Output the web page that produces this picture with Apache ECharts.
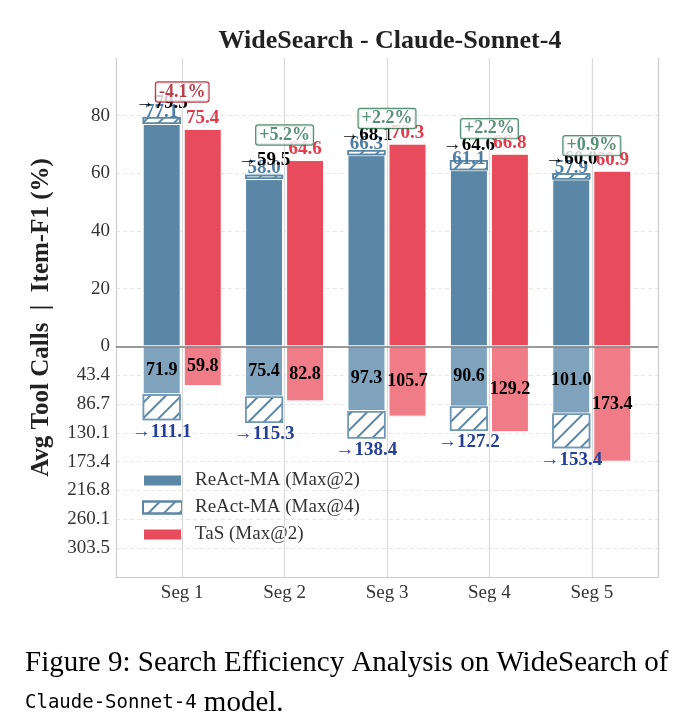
<!DOCTYPE html>
<html>
<head>
<meta charset="utf-8">
<script src="https://cdn.jsdelivr.net/npm/echarts@6/dist/echarts.min.js"></script>
<style>
  html, body { margin: 0; padding: 0; background: #fff; }
  #main { width: 686px; height: 727px; }
</style>
</head>
<body>
<div id="main"></div>
<script>
// 数据
var segs = ['Seg 1', 'Seg 2', 'Seg 3', 'Seg 4', 'Seg 5'];
var f1Max2 = [77.1, 58.0, 66.3, 61.1, 57.9];   // ReAct-MA (Max@2) Item-F1
var f1Max4 = [79.5, 59.5, 68.1, 64.6, 60.0];   // ReAct-MA (Max@4) Item-F1
var f1Tas = [75.4, 64.6, 70.3, 66.8, 60.9];    // TaS (Max@2) Item-F1
var gain = [-4.1, 5.2, 2.2, 2.2, 0.9];          // TaS vs Max@4
var callsMax2 = [71.9, 75.4, 97.3, 90.6, 101.0];
var callsMax4 = [111.1, 115.3, 138.4, 127.2, 153.4];
var callsTas = [59.8, 82.8, 105.7, 129.2, 173.4];

var serif = 'Liberation Serif';
var blue = '#5a87a6', blueLight = '#7fa3bd', red = '#e84b5b', redLight = '#ef7c86';
// 下半部分: 调用次数按比例缩放, 173.4 对应 -40
var callScale = 173.4 / 40;

function lower(v) { return -v / callScale; }

// 网格线颜色 (上半部分每20一条, 下半部分每10一条)
var lineColors = [];
for (var v = -80; v <= 100; v += 10) {
  if (v === -80 || v === 100) lineColors.push('transparent');
  else if (v < 0 || v % 20 === 0) lineColors.push('#e8e8e8');
  else lineColors.push('transparent');
}

var hatch = {
  symbol: 'rect',
  symbolSize: 1,
  color: blue,
  dashArrayX: [1, 0],
  dashArrayY: [1.4, 8.5],
  rotation: -Math.PI / 4
};

var BW = 38;

var chart = echarts.init(document.getElementById('main'));
var option = {
  animation: false,
  title: [{
    text: 'WideSearch - Claude-Sonnet-4',
    left: 385,
    textAlign: 'center',
    top: 23,
    textStyle: { fontFamily: serif, fontWeight: 'bold', fontSize: 26, color: '#222' }
  }, {
    text: 'Figure 9: Search Efficiency Analysis on WideSearch of\n{m|Claude-Sonnet-4} model.',
    left: 20,
    top: 638,
    textStyle: {
      fontFamily: serif, fontSize: 29, fontWeight: 'normal', color: '#000', lineHeight: 40,
      rich: { m: { fontFamily: 'DejaVu Sans Mono', fontSize: 19, color: '#000' } }
    }
  }],
  legend: {
    orient: 'vertical',
    left: 137,
    top: 466,
    itemWidth: 39,
    itemHeight: 12,
    itemGap: 8,
    icon: 'rect',
    data: ['ReAct-MA (Max@2)', 'ReAct-MA (Max@4)', 'TaS (Max@2)'],
    textStyle: { fontFamily: serif, fontSize: 19, color: '#333', padding: [0, 0, 0, 8] }
  },
  grid: [
    { left: 116, right: 28, top: 58, bottom: 150 },
    { left: 131, right: 43, top: 58, bottom: 150 }
  ],
  xAxis: [{
    type: 'value', gridIndex: 0, min: 0, max: 1,
    axisLine: { show: true, onZero: false, lineStyle: { color: '#cccccc', width: 1.2 } },
    axisTick: { show: false }, axisLabel: { show: false }, splitLine: { show: false }
  }, {
    type: 'category', gridIndex: 1, data: segs,
    axisLine: { show: false }, axisTick: { show: false }, splitLine: { show: false },
    axisLabel: { fontFamily: serif, fontSize: 19, color: '#333', margin: 7 }
  }],
  yAxis: [{
    type: 'value', gridIndex: 0, min: -80, max: 100, interval: 10,
    name: 'Avg Tool Calls  |  Item-F1 (%)',
    nameLocation: 'middle',
    nameGap: 62,
    nameTextStyle: { fontFamily: serif, fontWeight: 'bold', fontSize: 25, color: '#222' },
    axisLine: { show: true, lineStyle: { color: '#cccccc', width: 1.2 } },
    axisTick: { show: false },
    axisLabel: {
      fontFamily: serif, fontSize: 19, color: '#333', margin: 6,
      formatter: function (v) {
        if (v >= 0) return (v % 20 === 0 && v < 100) ? String(v) : '';
        if (v <= -80) return '';
        return (Math.round(-v * callScale * 10 + 1e-6) / 10).toFixed(1);
      }
    },
    splitLine: { show: true, lineStyle: { color: lineColors, type: [4, 3], width: 1 } }
  }, {
    type: 'value', gridIndex: 0, min: -80, max: 100, position: 'right',
    axisLine: { show: true, lineStyle: { color: '#cccccc', width: 1.2 } },
    axisTick: { show: false }, axisLabel: { show: false }, splitLine: { show: false }
  }, {
    type: 'value', gridIndex: 1, min: -80, max: 100, show: false
  }],
  series: [
    {
      // 竖向网格线
      type: 'line', xAxisIndex: 1, yAxisIndex: 2, z: 1, silent: true,
      data: segs.map(function () { return '-'; }),
      markLine: {
        silent: true, symbol: 'none', label: { show: false },
        lineStyle: { color: '#d9d9d9', type: 'solid', width: 1.2 },
        data: segs.map(function (s) { return { xAxis: s }; })
      }
    },
    {
      // 零线
      type: 'line', xAxisIndex: 0, yAxisIndex: 0, z: 6, silent: true, data: [],
      markLine: {
        silent: true, symbol: 'none', label: { show: false },
        lineStyle: { color: '#7a7a7a', type: 'solid', width: 1.5 },
        data: [{ yAxis: 0 }]
      }
    },
    {
      name: 'ReAct-MA (Max@2)', type: 'bar', stack: 'react', xAxisIndex: 1, yAxisIndex: 2,
      barWidth: BW, barGap: '8%',
      data: f1Max2,
      itemStyle: { color: blue, borderColor: '#fff', borderWidth: 1 },
      label: {
        show: true, position: 'top', distance: 2, color: '#4e7da3',
        fontFamily: serif, fontWeight: 'bold', fontSize: 19,
        formatter: function (p) { return p.value.toFixed(1); }
      }
    },
    {
      name: 'ReAct-MA (Max@4)', type: 'bar', stack: 'react', xAxisIndex: 1, yAxisIndex: 2,
      barWidth: BW, barGap: '8%',
      data: f1Max4.map(function (v, i) { return +(v - f1Max2[i]).toFixed(2); }),
      itemStyle: { color: '#fff', borderColor: blue, borderWidth: 1.5, decal: hatch },
      label: {
        show: true, position: 'top', distance: 5, color: '#000',
        fontFamily: serif, fontWeight: 'bold', fontSize: 19,
        formatter: function (p) { return '→' + f1Max4[p.dataIndex].toFixed(1); }
      }
    },
    {
      name: 'TaS (Max@2)', type: 'bar', stack: 'tas', xAxisIndex: 1, yAxisIndex: 2,
      barWidth: BW, barGap: '8%',
      data: f1Tas,
      itemStyle: { color: red, borderColor: '#fff', borderWidth: 1 },
      label: {
        show: true, position: 'top', distance: 1, color: '#e23b4c',
        fontFamily: serif, fontWeight: 'bold', fontSize: 19,
        formatter: function (p) { return p.value.toFixed(1); }
      }
    },
    {
      name: 'calls Max@2', type: 'bar', stack: 'react', xAxisIndex: 1, yAxisIndex: 2,
      barWidth: BW, barGap: '8%',
      data: callsMax2.map(lower),
      itemStyle: { color: blueLight, borderColor: '#fff', borderWidth: 1 },
      label: {
        show: true, position: 'inside', color: '#000',
        fontFamily: serif, fontWeight: 'bold', fontSize: 18,
        formatter: function (p) { return callsMax2[p.dataIndex].toFixed(1); }
      }
    },
    {
      name: 'calls Max@4', type: 'bar', stack: 'react', xAxisIndex: 1, yAxisIndex: 2,
      barWidth: BW, barGap: '8%',
      data: callsMax4.map(function (v, i) { return lower(v - callsMax2[i]); }),
      itemStyle: { color: '#fff', borderColor: '#6f98b6', borderWidth: 1.5, decal: hatch },
      label: {
        show: true, position: 'bottom', distance: 2, color: '#233f96',
        fontFamily: serif, fontWeight: 'bold', fontSize: 19,
        formatter: function (p) { return '→' + callsMax4[p.dataIndex].toFixed(1); }
      }
    },
    {
      name: 'calls TaS', type: 'bar', stack: 'tas', xAxisIndex: 1, yAxisIndex: 2,
      barWidth: BW, barGap: '8%',
      data: callsTas.map(lower),
      itemStyle: { color: redLight, borderColor: '#fff', borderWidth: 1 },
      label: {
        show: true, position: 'inside', color: '#000',
        fontFamily: serif, fontWeight: 'bold', fontSize: 18,
        formatter: function (p) { return callsTas[p.dataIndex].toFixed(1); }
      }
    },
    {
      // 提升百分比标注框
      type: 'scatter', xAxisIndex: 1, yAxisIndex: 2, z: 10, symbolSize: 0, silent: true,
      data: gain.map(function (g, i) {
        var neg = g < 0;
        var c = neg ? '#a8101f' : '#2c7452';
        return {
          value: [segs[i], Math.max(f1Max4[i], f1Tas[i]) + 8.7],
          label: {
            show: true, position: 'inside',
            formatter: (neg ? '' : '+') + g.toFixed(1) + '%',
            color: c, borderColor: c, borderWidth: 1.2, borderRadius: 2,
            backgroundColor: '#fff', padding: [1, 3, 0, 3],
            fontFamily: serif, fontWeight: 'bold', fontSize: 18
          }
        };
      })
    }
  ]
};
chart.setOption(option);
</script>
</body>
</html>
